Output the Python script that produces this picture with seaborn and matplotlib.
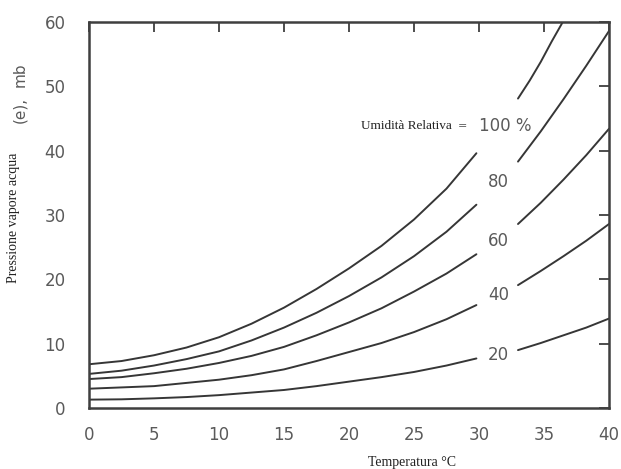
import matplotlib
matplotlib.use("Agg")
import matplotlib.pyplot as plt
import seaborn as sns
import pandas as pd

# ---- data ----
temp_lower = [0, 2.5, 5, 7.5, 10, 12.5, 15, 17.5, 20, 22.5, 25, 27.5, 29.8]
rh100_lower = [6.8, 7.3, 8.2, 9.4, 11.0, 13.1, 15.6, 18.5, 21.7, 25.2, 29.3, 34.1, 39.6]
rh80_lower = [5.3, 5.8, 6.6, 7.6, 8.8, 10.5, 12.5, 14.8, 17.4, 20.3, 23.6, 27.4, 31.6]
rh60_lower = [4.5, 4.8, 5.4, 6.1, 7.0, 8.1, 9.5, 11.3, 13.3, 15.5, 18.1, 20.9, 23.9]
rh40_lower = [3.0, 3.2, 3.4, 3.9, 4.4, 5.1, 6.0, 7.3, 8.7, 10.1, 11.8, 13.8, 16.0]
rh20_lower = [1.3, 1.35, 1.5, 1.7, 2.0, 2.4, 2.8, 3.4, 4.1, 4.8, 5.6, 6.6, 7.7]

temp_upper_100 = [33.0, 33.9, 34.75, 35.6, 36.5]
rh100_upper = [48.1, 50.9, 53.8, 57.0, 60.2]
temp_upper = [33.0, 34.75, 36.5, 38.25, 40.0]
rh80_upper = [38.3, 43.0, 48.0, 53.2, 58.6]
rh60_upper = [28.6, 31.9, 35.5, 39.3, 43.4]
rh40_upper = [19.1, 21.3, 23.6, 26.0, 28.6]
rh20_upper = [9.0, 10.1, 11.3, 12.5, 13.9]

rh_labels = ["100 %", "80", "60", "40", "20"]
x_ticks = [0, 5, 10, 15, 20, 25, 30, 35, 40]
y_ticks = [0, 10, 20, 30, 40, 50, 60]

segments = [
    (temp_lower, rh100_lower), (temp_upper_100, rh100_upper),
    (temp_lower, rh80_lower), (temp_upper, rh80_upper),
    (temp_lower, rh60_lower), (temp_upper, rh60_upper),
    (temp_lower, rh40_lower), (temp_upper, rh40_upper),
    (temp_lower, rh20_lower), (temp_upper, rh20_upper),
]
rows = []
for i, (tx, ey) in enumerate(segments):
    for t, e in zip(tx, ey):
        rows.append({"T": t, "e": e, "seg": i})
df = pd.DataFrame(rows)

sns.set_theme(style="white")
plt.rcParams["font.family"] = ["DejaVu Sans"]

fig = plt.figure(figsize=(6.21, 4.69), dpi=100)
ax = fig.add_axes([89 / 621, 1 - 408 / 469, (609 - 89) / 621, (408 - 22) / 469])

line_col = "#363636"
sns.lineplot(data=df, x="T", y="e", units="seg", estimator=None, sort=False,
             color=line_col, linewidth=1.4, ax=ax, legend=False)

ax.set_xlim(0, 40)
ax.set_ylim(0, 60)
ax.set_xticks(x_ticks)
ax.set_yticks(y_ticks)
ax.set_xticklabels([str(v) for v in x_ticks])
ax.set_yticklabels([str(v) for v in y_ticks])
for s in ax.spines.values():
    s.set_visible(True)
    s.set_color("#3f3f3f")
    s.set_linewidth(1.8)
ax.tick_params(direction="in", length=7, width=1.3, color="#3f3f3f",
               top=True, right=True, labelsize=12, labelcolor="#5a5a5a")
ax.tick_params(axis="x", pad=13)
ax.tick_params(axis="y", pad=17)
ax.set_xlabel("")
ax.set_ylabel("")

# curve labels
lab_pos = [(32.0, 43.9), (31.5, 35.1), (31.5, 26.0), (31.5, 17.5), (31.5, 8.2)]
for txt, (tx, ty) in zip(rh_labels, lab_pos):
    ax.text(tx, ty, txt, ha="center", va="center", fontsize=12, color="#5a5a5a")
ax.text(27.9, 43.9, "Umidità Relativa", ha="right", va="center",
        fontsize=9.5, family="Liberation Serif", color="#222222")
ax.text(28.7, 43.8, "=", ha="center", va="center", fontsize=8, color="#555555")

# axis titles
fig.text(412 / 621, 1 - 462 / 469, "Temperatura °C", ha="center", va="center",
         fontsize=10, family="Liberation Serif", color="#222222")
fig.text(14 / 621, 1 - 218 / 469, "Pressione vapore acqua", ha="center", va="center",
         rotation=90, fontsize=10, family="Liberation Serif", color="#222222")
fig.text(20 / 621, 1 - 110 / 469, "(e),", ha="center", va="center",
         rotation=90, fontsize=11, color="#5a5a5a")
fig.text(20 / 621, 1 - 75 / 469, "mb", ha="center", va="center",
         rotation=90, fontsize=11, color="#5a5a5a")

fig.savefig("out.png", dpi=100, facecolor="white")
